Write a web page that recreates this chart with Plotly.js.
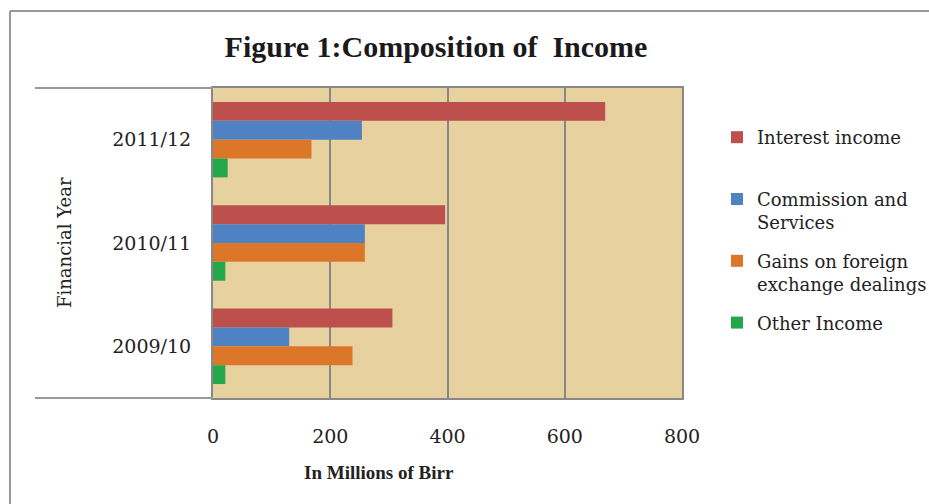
<!DOCTYPE html>
<html>
<head>
<meta charset="utf-8">
<script src="https://cdn.plot.ly/plotly-3.0.1.min.js"></script>
<style>html,body{margin:0;padding:0;background:#fff;}#chart{width:929px;height:504px;}</style>
</head>
<body>
<div id="chart"></div>
<script>
const years = ['2011/12', '2010/11', '2009/10'];
const interestIncome = [669, 396, 306];
const commissionServices = [254, 259, 130];
const gainsForeignExchange = [168, 259, 238];
const otherIncome = [25, 21, 21];
const seriesNames = ['Interest income<br>\u00a0', 'Commission and<br>Services', 'Gains on foreign<br>exchange dealings', 'Other Income'];
const xTicks = [0, 200, 400, 600, 800];

const serif = 'Liberation Serif, DejaVu Serif, serif';
const wide = 'DejaVu Serif, Liberation Serif, serif';
const gray = '#888888';

function bar(name, vals, color, grp) {
  return {
    type: 'bar', orientation: 'h', name: name, y: years, x: vals, legendgroup: grp,
    marker: {color: color, line: {width: 0}},
    hoverinfo: 'x+name'
  };
}

const data = [
  bar(seriesNames[0], interestIncome, '#bd4f4c', 'a'),
  bar(seriesNames[1], commissionServices, '#4f82c2', 'b'),
  bar(seriesNames[2], gainsForeignExchange, '#dc772a', 'c'),
  bar(seriesNames[3], otherIncome, '#22a84b', 'd')
];

const L = 213, R = 682, T = 88, B = 398;
const W = R - L, H = B - T;
const px = p => (p - L) / W;
const py = p => (B - p) / H;

const layout = {
  width: 929, height: 504,
  margin: {l: L, r: 929 - R, t: T, b: 504 - B},
  paper_bgcolor: '#ffffff',
  plot_bgcolor: '#e7d29f',
  barmode: 'group',
  bargap: 0.27,
  bargroupgap: 0,
  font: {family: wide, color: '#222222', size: 18},
  title: {
    text: '<b>Figure 1:Composition of  Income</b>',
    font: {family: serif, size: 30, color: '#1a1a1a'},
    x: 436 / 929, xanchor: 'center', xref: 'container',
    y: 1 - 46 / 504, yanchor: 'middle', yref: 'container'
  },
  xaxis: {
    range: [0, 800], tickvals: xTicks, ticktext: xTicks.map(String),
    showgrid: true, gridcolor: gray, gridwidth: 2,
    showline: true, linecolor: gray, linewidth: 2, mirror: true,
    zeroline: false, ticks: '', ticklabelstandoff: 20,
    tickfont: {family: wide, size: 19, color: '#222'}
  },
  yaxis: {
    type: 'category', categoryorder: 'array', categoryarray: years, autorange: 'reversed',
    showgrid: false, showline: true, linecolor: gray, linewidth: 2, mirror: true,
    ticks: '', ticklabelstandoff: 16,
    tickfont: {family: wide, size: 19, color: '#222'}
  },
  legend: {
    traceorder: 'grouped', xref: 'container', yref: 'container',
    x: 717 / 929, xanchor: 'left', y: 1 - 119 / 504, yanchor: 'top',
    font: {family: wide, size: 18, color: '#222'}, valign: 'top',
    bgcolor: 'rgba(0,0,0,0)', tracegroupgap: 12, itemwidth: 30
  },
  showlegend: true,
  annotations: [
    {text: '<b>In Millions of Birr</b>', xref: 'paper', yref: 'paper', x: px(379), y: py(472),
     xanchor: 'center', yanchor: 'middle', showarrow: false, font: {family: serif, size: 19, color: '#222'}},
    {text: 'Financial Year', xref: 'paper', yref: 'paper', x: px(64), y: py(243), textangle: -90,
     xanchor: 'center', yanchor: 'middle', showarrow: false, font: {family: wide, size: 18, color: '#222'}}
  ],
  shapes: [
    {type: 'line', xref: 'paper', yref: 'paper', x0: px(10), x1: px(10), y0: py(11), y1: py(510), line: {color: '#999', width: 2}},
    {type: 'line', xref: 'paper', yref: 'paper', x0: px(10), x1: px(935), y0: py(11), y1: py(11), line: {color: '#999', width: 2}},
    {type: 'line', xref: 'paper', yref: 'paper', x0: px(35), x1: px(213), y0: py(88), y1: py(88), line: {color: '#999', width: 2}},
    {type: 'line', xref: 'paper', yref: 'paper', x0: px(35), x1: px(213), y0: py(398), y1: py(398), line: {color: '#999', width: 2}}
  ]
};

Plotly.newPlot('chart', data, layout, {displayModeBar: false, staticPlot: true});
</script>
</body>
</html>
